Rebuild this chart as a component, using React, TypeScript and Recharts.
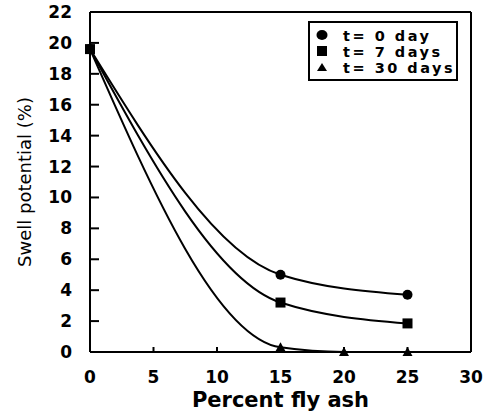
import React from "react";
import {
  LineChart,
  Line,
  XAxis,
  YAxis,
  ReferenceLine,
} from "recharts";

const flyAsh = [0, 15, 20, 25];
const swellDay0 = [19.6, 5.0, null, 3.7];
const swellDay7 = [19.6, 3.2, null, 1.85];
const swellDay30 = [19.6, 0.3, 0, 0];
const xTicks = [0, 5, 10, 15, 20, 25, 30];
const yTicks = [0, 2, 4, 6, 8, 10, 12, 14, 16, 18, 20, 22];

const data = flyAsh.map((x, i) => ({
  x,
  d0: swellDay0[i],
  d7: swellDay7[i],
  d30: swellDay30[i],
}));

const FONT = "'DejaVu Sans', sans-serif";

const Circle = (p: any) =>
  p.cx == null || p.cy == null ? null : (
    <circle key={p.key} cx={p.cx} cy={p.cy} r={5} fill="#000" />
  );
const Square = (p: any) =>
  p.cx == null || p.cy == null ? null : (
    <rect key={p.key} x={p.cx - 5} y={p.cy - 5} width={10} height={10} fill="#000" />
  );
const Tri = (p: any) =>
  p.cx == null || p.cy == null ? null : (
    <polygon
      key={p.key}
      points={`${p.cx},${p.cy - 5} ${p.cx - 5},${p.cy + 4} ${p.cx + 5},${p.cy + 4}`}
      fill="#000"
    />
  );

const legendItems = [
  { label: "t= 0 day", mark: "circle" },
  { label: "t= 7 days", mark: "square" },
  { label: "t= 30 days", mark: "tri" },
];

// legend drawn on its own, so it does not take room from the plot
function LegendBox() {
  return (
    <svg width={150} height={60} style={{ position: "absolute", left: 308, top: 21 }}>
      <rect x={1} y={1} width={148} height={58} fill="#fff" stroke="#000" strokeWidth={2} />
      {legendItems.map((it, i) => {
        const base = 19.5 + i * 16;
        const cy = base - 5.5;
        const cx = 14;
        return (
          <g key={it.label}>
            {it.mark === "circle" && <ellipse cx={cx} cy={cy} rx={5.5} ry={5} fill="#000" />}
            {it.mark === "square" && <rect x={cx - 5} y={cy - 5} width={10} height={10} fill="#000" />}
            {it.mark === "tri" && (
              <polygon points={`${cx},${cy - 4} ${cx - 5},${cy + 4} ${cx + 5},${cy + 4}`} fill="#000" />
            )}
            <text
              x={35}
              y={base}
              fontFamily={FONT}
              fontWeight="bold"
              fontSize={14.5}
              letterSpacing={2.5}
              fill="#000"
            >
              {it.label}
            </text>
          </g>
        );
      })}
    </svg>
  );
}

export default function App() {
  return (
    <div style={{ position: "absolute", left: 0, top: 0, width: 483, height: 415, background: "#fff" }}>
      <LineChart
        width={483}
        height={415}
        data={data}
        margin={{ top: 12, right: 12, bottom: 3, left: 0 }}
      >
        <XAxis
          dataKey="x"
          type="number"
          domain={[0, 30]}
          ticks={xTicks}
          height={60}
          tickSize={-5}
          tickMargin={24}
          stroke="#000"
          strokeWidth={2}
          tick={{ fill: "#000", fontFamily: FONT, fontWeight: "bold", fontSize: 17 }}
          label={{
            value: "Percent fly ash",
            position: "center",
            dy: 18,
            fill: "#000",
            fontFamily: FONT,
            fontWeight: "bold",
            fontSize: 21,
          }}
        />
        <YAxis
          type="number"
          domain={[0, 22]}
          ticks={yTicks}
          width={90}
          tickSize={-9}
          tickMargin={27}
          stroke="#000"
          strokeWidth={2}
          tick={{ fill: "#000", fontFamily: FONT, fontWeight: "bold", fontSize: 17 }}
          label={{
            value: "Swell potential (%)",
            angle: -90,
            position: "center",
            dx: -20,
            fill: "#000",
            fontFamily: FONT,
            fontSize: 18,
          }}
        />
        <ReferenceLine y={22} stroke="#000" strokeWidth={2} />
        <ReferenceLine x={30} stroke="#000" strokeWidth={2} />
        <Line
          dataKey="d30"
          type="monotone"
          stroke="#000"
          strokeWidth={2}
          dot={Tri}
          activeDot={false}
          isAnimationActive={false}
        />
        <Line
          dataKey="d7"
          type="monotone"
          stroke="#000"
          strokeWidth={2}
          dot={Square}
          connectNulls
          activeDot={false}
          isAnimationActive={false}
        />
        <Line
          dataKey="d0"
          type="monotone"
          stroke="#000"
          strokeWidth={2}
          dot={Circle}
          connectNulls
          activeDot={false}
          isAnimationActive={false}
        />
      </LineChart>
      <LegendBox />
    </div>
  );
}
